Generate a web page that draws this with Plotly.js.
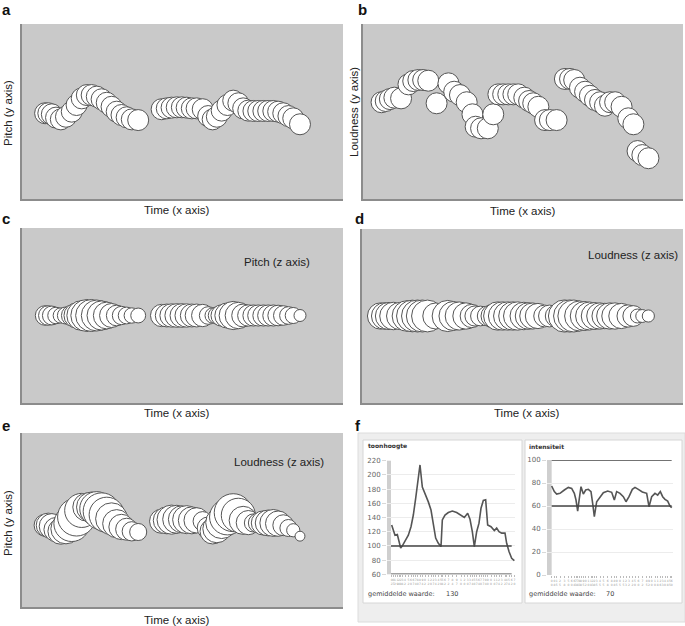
<!DOCTYPE html>
<html><head><meta charset="utf-8">
<script src="https://cdn.plot.ly/plotly-3.0.1.min.js"></script>
<style>html,body{margin:0;padding:0;background:#fff}#chart{width:685px;height:626px}</style>
</head><body><div id="chart"></div>
<script>
// ---- panels a, c, e : time + pitch (normalised 0-100) ----
const timeA = [7.2,8.2,9.3,10.6,12.1,13.7,15.5,17.0,18.6,20.2,21.7,23.3,24.8,26.4,27.9,29.5,31.0,32.6,34.2,36.2,
  43.5,45.1,46.6,48.2,49.8,51.3,52.9,54.4,56.3,58.0,59.4,60.7,62.2,64.0,65.8,67.4,68.9,70.5,72.1,73.6,75.2,76.7,78.3,79.8,81.4,83.0,84.5,86.6];
const pitchA = [49.0,49.0,48.4,46.5,45.5,47.0,49.9,53.7,57.5,59.4,59.4,58.5,57.0,55.0,52.7,49.9,48.0,46.7,45.5,45.1,
  51.3,51.8,52.2,52.4,52.4,52.2,51.8,51.8,51.3,47.4,45.5,47.0,50.5,53.7,56.2,54.7,51.8,50.5,50.3,50.3,50.3,50.3,50.3,49.9,49.0,47.4,46.1,42.7];
// loudness shown as bubble size in panel e
const loudE = [40,44,46,44,47,55,65,69,62,51,55,62,67,64,58,51,46,40,35,31,
  44,49,53,51,49,51,49,46,35,40,46,51,58,65,69,62,51,44,33,36,44,47,49,46,38,31,24,18];
// ---- panels b, d : time + loudness (normalised 0-100) ----
const timeB = [5.8,7.1,8.4,9.8,11.9,14.2,15.7,17.3,18.8,20.4,23.0,26.7,28.5,30.3,32.4,34.2,35.2,36.9,39.0,40.7,
  42.3,43.8,45.4,47.0,48.5,50.4,51.9,53.2,54.8,56.9,58.4,60.5,63.1,64.7,66.0,67.8,69.4,70.9,72.5,74.1,75.6,77.2,78.8,80.8,82.9,84.5,85.8,87.3,89.2];
const loudB = [55.3,56.0,57.1,57.9,57.5,65.5,67.4,68.0,68.0,67.6,54.7,66.1,61.3,59.4,55.3,48.4,41.3,40.4,40.4,48.4,
  59.8,59.8,59.8,59.8,59.8,57.9,56.0,54.7,52.7,45.1,45.1,45.1,68.6,68.6,68.0,63.6,61.3,59.0,56.6,55.3,53.3,55.3,55.3,52.7,46.1,42.7,27.4,25.1,23.3];
// ---- panel f : toonhoogte (Hz) and intensiteit ----
const tPitch = [0.02,0.07,0.12,0.19,0.24,0.29,0.34,0.42,0.52,0.60,0.67,0.74,0.80,0.87,0.94,1.02,1.12,1.20,1.27,1.34,1.42,1.50,1.54,1.62,1.72,
  1.84,1.97,2.10,2.20,2.30,2.37,2.44,2.50,2.57,2.64,2.70,2.77,2.84,2.90,3.00,3.10,3.17,3.24,3.32,3.42,3.47,3.54,3.62,3.70];
const pitchF = [129.5,122,115,116,108,97,100,106,115,127,143.5,167,193,214,183,174,162,150.5,127,111,103.6,99,136.5,143.5,147,
  149,147,143.5,140,146,137.5,120,99,120,132,153,164,165,129.5,127,121.5,125,120,118,118,103.6,92,82.6,79.3];
const tInt = [0,0.08,0.15,0.25,0.38,0.50,0.60,0.68,0.73,0.78,0.83,0.88,0.95,1.02,1.10,1.18,1.23,1.28,1.35,1.45,1.55,1.68,
  1.80,1.88,1.95,2.05,2.15,2.23,2.32,2.42,2.50,2.60,2.72,2.85,2.92,3.00,3.10,3.18,3.26,3.33,3.40,3.48,3.55,3.60];
const intF = [77.4,72.5,70.4,71,73.9,76.2,75.3,71,65.2,55.6,66.6,76.8,70.4,73.9,74.5,72.5,62.3,50.7,63.7,68.1,71.6,73,
  71.9,65.2,72.5,71,68.1,63.7,68.1,74.5,76.2,74.5,72.2,71,59.4,68.1,71,69.5,72.5,68.1,65.8,64.3,60,58.5];
const pitchTicks = [60,80,100,120,140,160,180,200,220];
const intTicks = [0,20,40,60,80,100];
const meanPitch = 130, meanInt = 70;

const W = 685, H = 626;
const PX = p => p / W, PY = p => 1 - p / H;
const dx = (a, b) => [PX(a), PX(b)];
const dy = (t, b) => [PY(b), PY(t)];

const bl = {color:'#555555', width:1};
function bub(x, y, xa, ya, size){
  return {type:'scatter', mode:'markers', x:x, y:y, xaxis:xa, yaxis:ya, hoverinfo:'skip',
    marker:{size:size, color:'#ffffff', opacity:1, line:bl}};
}
const traces = [
  bub(timeA, pitchA, 'x', 'y', 21),
  bub(timeB, loudB, 'x2', 'y2', 21),
  bub(timeA, timeA.map(() => 50), 'x3', 'y3', pitchA.map(p => 12 + 1.2 * (p - 42.7))),
  bub(timeB, timeB.map(() => 50), 'x4', 'y4', loudB.map(l => 1.8 + 0.444 * l)),
  bub(timeA, pitchA, 'x5', 'y5', loudE.map(l => 0.55 * l)),
  {type:'scatter', mode:'lines', x:tPitch, y:pitchF, xaxis:'x6', yaxis:'y6', line:{color:'#555', width:1.6}, hoverinfo:'skip'},
  {type:'scatter', mode:'lines', x:tInt, y:intF, xaxis:'x7', yaxis:'y7', line:{color:'#555', width:1.6}, hoverinfo:'skip'}
];

function bx(dom, anchor){ return {domain:dom, anchor:anchor, range:[0,100], showline:true, linecolor:'#8c8c8c', linewidth:2,
  showgrid:false, zeroline:false, showticklabels:false, ticks:'', fixedrange:true}; }
function by(dom, anchor, r){ const a = bx(dom, anchor); a.range = r || [0,100]; return a; }
// tiny two-row time stamp under each sample (tenths / hundredths digit)
const tt = t => { const s = t.toFixed(2); return s.charAt(2) + '<br>' + s.charAt(3); };
function fx(dom, anchor, r, tv){ return {domain:dom, anchor:anchor, range:r, tickvals:tv, ticktext:tv.map(tt), tickangle:0,
  tickfont:{size:3, color:'#999', family:'DejaVu Sans'}, ticks:'outside', ticklen:2, tickcolor:'#bbb',
  showgrid:false, zeroline:false, showline:false, fixedrange:true}; }
function fy(dom, anchor, r, tv){ return {domain:dom, anchor:anchor, range:r, tickvals:tv, ticks:'outside', ticklen:4, tickcolor:'#d8d8d8',
  tickfont:{size:7, color:'#666', family:'DejaVu Sans'}, gridcolor:'#ececec', gridwidth:1, zeroline:false, showline:false, fixedrange:true}; }

const layout = {
  width:W, height:H, margin:{l:0, r:0, t:0, b:0}, paper_bgcolor:'#ffffff', plot_bgcolor:'rgba(0,0,0,0)', showlegend:false,
  font:{family:'Liberation Sans, Arial, sans-serif', color:'#222'},
  xaxis:bx(dx(22,343),'y'), yaxis:by(dy(24,199),'x'),
  xaxis2:bx(dx(363,683),'y2'), yaxis2:by(dy(24,199),'x2'),
  xaxis3:bx(dx(22,343),'y3'), yaxis3:by(dy(228,403),'x3'),
  xaxis4:bx(dx(362,683),'y4'), yaxis4:by(dy(229,403),'x4'),
  xaxis5:bx(dx(22,343),'y5'), yaxis5:by(dy(433,607),'x5',[2,102]),
  xaxis6:fx(dx(387,515),'y6',[-0.12,3.72], tPitch), yaxis6:fy(dy(460.7,574.3),'x6',[60,220], pitchTicks),
  xaxis7:fx(dx(547,673),'y7',[-0.14,3.64], tInt), yaxis7:fy(dy(460,575),'x7',[0,100], intTicks),
  shapes:[], annotations:[]
};
const S = layout.shapes, A = layout.annotations;
// panel f frame
S.push({type:'rect', xref:'paper', yref:'paper', x0:PX(358), x1:PX(685), y0:PY(622), y1:PY(433), fillcolor:'#eeeeee', line:{color:'#dcdcdc', width:1}, layer:'below'});
S.push({type:'rect', xref:'paper', yref:'paper', x0:PX(363), x1:PX(522), y0:PY(603), y1:PY(440), fillcolor:'#ffffff', line:{color:'#d6d6d6', width:1}, layer:'below'});
S.push({type:'rect', xref:'paper', yref:'paper', x0:PX(525), x1:PX(682), y0:PY(603), y1:PY(440), fillcolor:'#ffffff', line:{color:'#d6d6d6', width:1}, layer:'below'});
// grey plot areas
['', '2', '3', '4', '5'].forEach(k => S.push({type:'rect', xref:'x'+k+' domain', yref:'y'+k+' domain', x0:0, x1:1, y0:0, y1:1,
  fillcolor:'#c9c9c9', line:{width:0}, layer:'below'}));
// band + threshold lines in f
S.push({type:'rect', xref:'x6', yref:'y6 domain', x0:-0.12, x1:0, y0:0, y1:1, fillcolor:'#cfcfcf', line:{width:0}, layer:'below'});
S.push({type:'rect', xref:'x7', yref:'y7 domain', x0:-0.14, x1:0, y0:0, y1:1, fillcolor:'#cfcfcf', line:{width:0}, layer:'below'});
[100, 60].forEach(v => S.push({type:'line', xref:'x6', yref:'y6', x0:0, x1:3.62, y0:v, y1:v, line:{color:'#444', width:1.5}}));
[100, 60].forEach(v => S.push({type:'line', xref:'x7', yref:'y7', x0:0, x1:3.6, y0:v, y1:v, line:{color:'#444', width:1.5}}));

function note(text, px, py, opt){
  A.push(Object.assign({text:text, xref:'paper', yref:'paper', x:PX(px), y:PY(py), showarrow:false,
    xanchor:'center', yanchor:'middle', font:{size:11.5, color:'#222', family:'Liberation Sans, Arial, sans-serif'}}, opt || {}));
}
const lab = {font:{size:15, color:'#111', family:'Liberation Sans, Arial, sans-serif', weight:'bold'}};
note('<b>a</b>', 6, 9, lab); note('<b>b</b>', 362, 9, lab); note('<b>c</b>', 6, 219, lab);
note('<b>d</b>', 359, 219, lab); note('<b>e</b>', 6, 425, lab); note('<b>f</b>', 358, 425, lab);
note('Time (x axis)', 177, 210); note('Pitch (y axis)', 8, 113, {textangle:-90});
note('Time (x axis)', 523, 211); note('Loudness (y axis)', 354, 112, {textangle:-90});
note('Time (x axis)', 177, 413); note('Pitch (z axis)', 277, 262);
note('Time (x axis)', 527, 413); note('Loudness (z axis)', 633, 255);
note('Time (x axis)', 177, 620); note('Pitch (y axis)', 8, 523, {textangle:-90}); note('Loudness (z axis)', 279, 462);
const fsm = {xanchor:'left', font:{size:6.5, color:'#444', family:'DejaVu Sans, Verdana, sans-serif'}};
note('<b>toonhoogte</b>', 366, 446, {xanchor:'left', font:{size:6, color:'#333', family:'DejaVu Sans, Verdana, sans-serif'}});
note('<b>intensiteit</b>', 527, 446, {xanchor:'left', font:{size:6, color:'#333', family:'DejaVu Sans, Verdana, sans-serif'}});
note('gemiddelde waarde:', 366, 594, fsm); note(String(meanPitch), 444, 594, fsm);
note('gemiddelde waarde:', 527, 594, fsm); note(String(meanInt), 604, 594, fsm);

Plotly.newPlot('chart', traces, layout, {staticPlot:true, displayModeBar:false});
</script></body></html>
